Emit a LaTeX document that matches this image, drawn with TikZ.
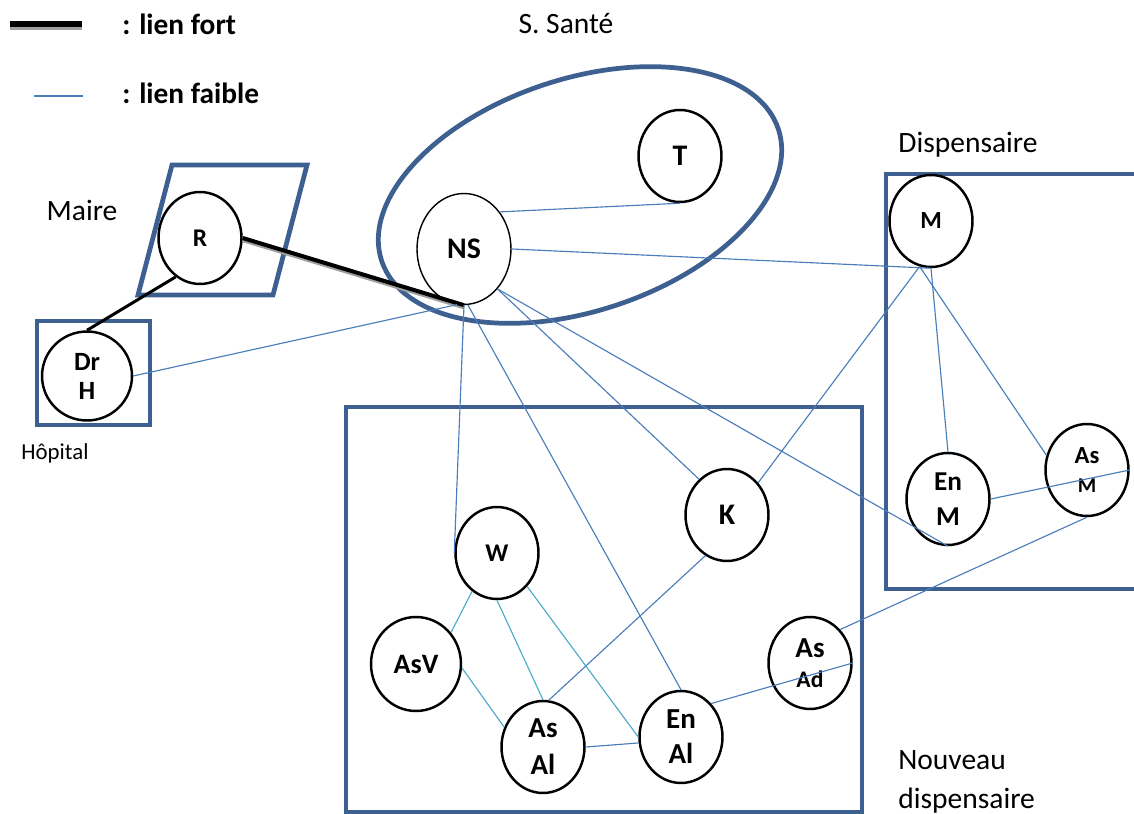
\documentclass[tikz,border=0pt]{standalone}
\usepackage{fontspec}
\setmainfont{Carlito}
\usepackage{tikz}
\usetikzlibrary{shapes.geometric}
\usepackage{xcolor}

\definecolor{boxblue}{HTML}{3E6091}
\definecolor{linkblue}{HTML}{4A7EBB}
\definecolor{linkteal}{HTML}{4BACC6}
\newcommand{\fs}[2]{\fontsize{#1}{#2}\selectfont}

\begin{document}
\begin{tikzpicture}[x=0.02cm,y=-0.02cm]
  \tikzstyle{actor}=[ellipse,draw,line width=1.4pt,inner sep=0pt,
    minimum width=1.66cm,minimum height=1.84cm,align=center]
  \tikzstyle{groupe}=[draw=boxblue,line width=2.7pt]
  \tikzstyle{lienfaible}=[draw=linkblue,line width=0.65pt]
  \tikzstyle{lienteal}=[draw=linkteal,line width=0.65pt]
  \tikzstyle{lienfort}=[draw=black,line width=2.3pt]
  \tikzstyle{fortshadow}=[draw=gray!75,line width=2.3pt,transform canvas={yshift=-1.2pt}]
  \tikzstyle{place}=[inner sep=0pt,font=\fs{16.8}{22.5}]

  \useasboundingbox (0,0) rectangle (1134,814);

  % legende
  \draw[draw=gray!75,line width=3.4pt] (10,27.5) -- (82,27.5);
  \draw[draw=black,line width=3.4pt] (10,23.7) -- (82,23.7);
  \draw[lienfaible] (34,96) -- (83,96);
  \node[place,font=\fs{16.7}{22.5}\bfseries,anchor=west] (fort) at (122,24) {: lien fort};
  \node[place,font=\fs{16.7}{22.5}\bfseries,anchor=west] (faible) at (122,93) {: lien faible};

  % groupes
  \draw[groupe,rotate around={18.4:(580,195)}] (580,195) ellipse [x radius=209, y radius=116];
  \draw[groupe] (172,165) -- (307,165) -- (273,295) -- (138,295) -- cycle;
  \draw[groupe] (37,321) rectangle (150,425);
  \draw[groupe] (1145,174) -- (886,174) -- (886,589) -- (1145,589);
  \draw[groupe] (346,407) rectangle (862,812);

  \node[place] (sante)   at (566,24)  {S. Santé};
  \node[place] (maire)   at (82,210)  {Maire};
  \node[inner sep=0pt,font=\fs{13}{15}] (hopital) at (55,453) {Hôpital};
  \node[place] (disp)    at (968,145) {Dispensaire};
  \node[place,align=left,anchor=west] (nouveau) at (898,782) {Nouveau\\dispensaire};

  % acteurs
  \node[actor,font=\fs{14.5}{16}\bfseries] (R) at (200,238) {R};
  \node[actor,font=\fs{15}{16.5}\bfseries,minimum width=1.8cm,minimum height=1.78cm] (DrH) at (87,376) {Dr\\H};
  \node[actor,font=\fs{17}{20}\bfseries,line width=0.8pt,minimum width=1.88cm,minimum height=2.22cm] (NS) at (464,249) {NS};
  \node[actor,font=\fs{17}{20}\bfseries] (T) at (680,156) {T};
  \node[actor,font=\fs{14}{15}\bfseries] (M) at (931,221) {M};
  \node[actor,font=\fs{15.5}{20}\bfseries] (EnM) at (948,499) {En\\M};
  \node[actor,font=\fs{14}{16.5}\bfseries] (AsM) at (1087,470) {As\\\fs{12}{16.5}M};
  \node[actor,font=\fs{17}{19}\bfseries] (K) at (727,515) {K};
  \node[actor,font=\fs{14.5}{16}\bfseries] (W) at (497,553) {W};
  \node[actor,font=\fs{16}{19}\bfseries,minimum width=1.8cm,minimum height=1.88cm] (AsV) at (416,664) {AsV};
  \node[actor,font=\fs{16.5}{21}\bfseries] (AsAl) at (543,747) {As\\Al};
  \node[actor,font=\fs{16.5}{20}\bfseries] (EnAl) at (681,737) {En\\Al};
  \node[actor,font=\fs{16.5}{17}\bfseries] (AsAd) at (810,663) {As\\\fs{13.5}{17}Ad};

  % liens forts
  \draw[fortshadow] (R.east) -- (NS.south);
  \draw[lienfort] (R.east) -- (NS.south);
  \draw[draw=black,line width=1.7pt] (R.-122) -- (DrH.north);

  % liens faibles
  \path[lienfaible]
  (DrH.east)  edge (NS.-97)
  (NS.46)     edge (T.south)
  (NS.east)   edge (M.south)
  (NS.-50)    edge (K.128)
  (NS.-50)    edge (EnM.south)
  (NS.south)  edge (W.west)
  (NS.-86)    edge (EnAl.north)
  (M.south)   edge (EnM.north)
  (M.-104)    edge (AsM.160)
  (M.-104)    edge (K.46)
  (EnM.east)  edge (AsM.east)
  (AsAd.48)   edge (AsM.south)
  (EnAl.48)   edge (AsAd.east)
  (AsAl.83)   edge (K.-118)
  (AsAl.east) edge (EnAl.188)
  ;
  \path[lienteal]
  (W.-123)    edge (AsV.42)
  (W.south)   edge (AsAl.north)
  (W.-48)     edge (EnAl.west)
  (AsV.-5)    edge (AsAl.153)
  ;
\end{tikzpicture}
\end{document}
